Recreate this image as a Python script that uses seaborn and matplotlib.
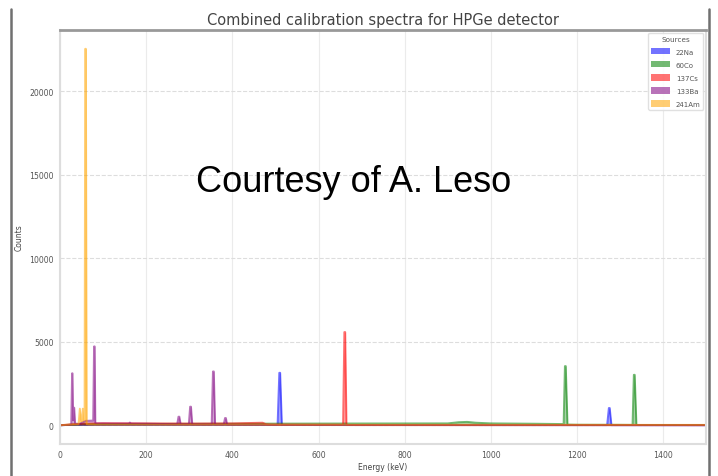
import numpy as np
import pandas as pd
import matplotlib
matplotlib.use("Agg")
import matplotlib.pyplot as plt
import seaborn as sb
from matplotlib.patches import Patch
from matplotlib.lines import Line2D

# spectra: (energy keV, counts) polylines per source
na_energy = [0, 50, 200, 400, 505, 509, 511, 515, 700, 1000, 1270, 1274, 1276, 1280, 1500]
na_counts = [0, 40, 30, 25, 20, 3140, 3140, 20, 15, 10, 8, 1030, 1030, 5, 0]

co_energy = [0, 50, 200, 400, 600, 900, 925, 945, 965, 1000, 1100, 1169, 1172, 1174, 1178,
             1200, 1300, 1329, 1332, 1334, 1338, 1500]
co_counts = [0, 60, 80, 90, 100, 110, 180, 200, 150, 110, 90, 70, 3540, 3540, 40,
             30, 25, 20, 3020, 3020, 15, 10]

cs_energy = [0, 30, 100, 200, 300, 400, 470, 478, 490, 600, 657, 660, 662, 665, 700, 1000, 1500]
cs_counts = [0, 60, 120, 110, 100, 110, 150, 60, 40, 30, 30, 5580, 5580, 10, 8, 5, 3]

ba_energy = [0, 20, 26, 28, 29, 30.5, 32, 33, 35, 45, 60, 77, 79, 80.5, 82, 85, 120, 160, 162, 165,
             200, 272, 275, 277, 280, 299, 302, 304, 307, 352, 355, 357, 360, 380, 383, 385, 388,
             420, 600, 1500]
ba_counts = [0, 20, 40, 3110, 3110, 300, 1050, 1050, 100, 80, 260, 280, 4720, 4720, 150, 110, 100, 100, 160, 100,
             90, 60, 510, 510, 60, 60, 1110, 1110, 50, 40, 3220, 3220, 40, 40, 430, 430, 30,
             20, 10, 5]

am_energy = [0, 20, 43, 46, 49, 51, 53, 55, 57, 58.5, 60, 62, 80, 300, 800, 1500]
am_counts = [0, 30, 60, 990, 250, 250, 990, 300, 300, 22550, 22550, 60, 40, 30, 25, 20]

sources = ["22Na", "60Co", "137Cs", "133Ba", "241Am"]
colors = ["blue", "green", "red", "purple", "orange"]

spectra = {
    "22Na": (na_energy, na_counts),
    "60Co": (co_energy, co_counts),
    "137Cs": (cs_energy, cs_counts),
    "133Ba": (ba_energy, ba_counts),
    "241Am": (am_energy, am_counts),
}

frames = []
for name in sources:
    e, c = spectra[name]
    frames.append(pd.DataFrame({"energy": e, "counts": c, "source": name}))
df = pd.concat(frames, ignore_index=True)

sb.set_style("whitegrid")
fig = plt.figure(figsize=(7.18, 4.77), dpi=100)
ax = fig.add_axes([0.0836, 0.067, 0.9, 0.868])

sb.lineplot(data=df, x="energy", y="counts", hue="source", hue_order=sources,
            palette=colors, estimator=None, linewidth=1.4, alpha=0.55, legend=False, ax=ax)
for name, col in zip(sources, colors):
    sub = df[df["source"] == name]
    ax.fill_between(sub["energy"], sub["counts"], color=col, alpha=0.35, linewidth=0)

ax.set_xlim(0, 1500)
ax.set_xticks([0, 200, 400, 600, 800, 1000, 1200, 1400])
ax.set_yticks([0, 5000, 10000, 15000, 20000])

ax.grid(axis="y", linestyle="--", color="#dddddd", linewidth=0.8)
ax.grid(axis="x", linestyle="-", color="#ebebeb", linewidth=0.8)
ax.tick_params(length=2.5, width=0.8, color="#888888", labelsize=5.6,
               labelcolor="#555555", pad=2)
for side in ["left", "right", "bottom"]:
    ax.spines[side].set_color("#dddddd")
    ax.spines[side].set_linewidth(1.5)
ax.spines["top"].set_color("#999999")
ax.spines["top"].set_linewidth(2.0)

ax.set_xlabel("Energy (keV)", fontsize=5.5, color="#444444", labelpad=2)
ax.set_ylabel("Counts", fontsize=5.5, color="#444444", labelpad=4)
ax.set_title("Combined calibration spectra for HPGe detector", fontsize=10.5,
             color="#444444", pad=4)

handles = [Patch(facecolor=c, alpha=0.55, edgecolor="none") for c in colors]
leg = ax.legend(handles, sources, title="Sources", loc="upper right", fontsize=5,
                title_fontsize=5.2, handlelength=2.8, handleheight=1.0,
                labelspacing=0.95, borderaxespad=0.4, frameon=True, framealpha=0.9)
leg.get_frame().set_edgecolor("#dddddd")
for t in leg.get_texts():
    t.set_color("#555555")
leg.get_title().set_color("#555555")

# slide border lines around the figure
fig.add_artist(Line2D([0.0153, 0.0153], [0.0, 0.979], transform=fig.transFigure,
                      color="#707070", linewidth=1.8))
fig.add_artist(Line2D([0.9875, 0.9875], [0.0, 0.979], transform=fig.transFigure,
                      color="#707070", linewidth=1.8))

fig.text(354 / 718, 1 - 182 / 477, "Courtesy of A. Leso", fontsize=26,
         family="Liberation Sans", ha="center", va="center", color="black")

fig.savefig("out.png", dpi=100)
